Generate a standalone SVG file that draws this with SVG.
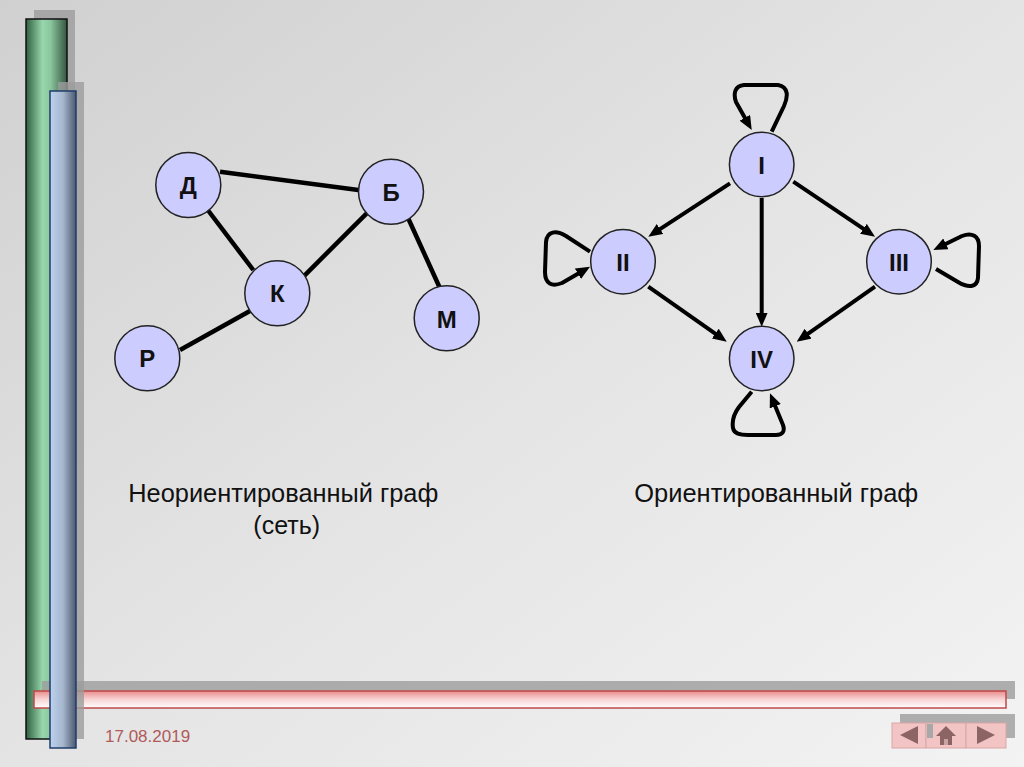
<svg xmlns="http://www.w3.org/2000/svg" width="1024" height="767" viewBox="0 0 1024 767">
<defs>
  <linearGradient id="bg" x1="0" y1="0" x2="1" y2="1">
    <stop offset="0" stop-color="#d0d0d0"/>
    <stop offset="0.5" stop-color="#e4e4e4"/>
    <stop offset="1" stop-color="#f3f3f3"/>
  </linearGradient>
  <linearGradient id="green" x1="0" y1="0" x2="1" y2="0">
    <stop offset="0" stop-color="#2f5f40"/>
    <stop offset="0.4" stop-color="#98d6ac"/>
    <stop offset="0.6" stop-color="#8ac69e"/>
    <stop offset="1" stop-color="#35553f"/>
  </linearGradient>
  <linearGradient id="blue" x1="0" y1="0" x2="1" y2="0">
    <stop offset="0" stop-color="#bcd2f0"/>
    <stop offset="0.5" stop-color="#a6b6cc"/>
    <stop offset="1" stop-color="#4a5870"/>
  </linearGradient>
  <linearGradient id="red" x1="0" y1="0" x2="0" y2="1">
    <stop offset="0" stop-color="#e88c8c"/>
    <stop offset="0.5" stop-color="#f8d4d4"/>
    <stop offset="1" stop-color="#ffffff"/>
  </linearGradient>
  <marker id="ah" markerWidth="14" markerHeight="12" refX="6" refY="6" orient="auto" markerUnits="userSpaceOnUse">
    <path d="M0,0 L14,6 L0,12 z" fill="#000"/>
  </marker>
  <style>
    .node { fill: #ccccff; stroke: #222; stroke-width: 1.5; }
    .lbl { font-family: "Liberation Sans", Arial, sans-serif; font-weight: bold; font-size: 24px; fill: #111; text-anchor: middle; }
    .edge { stroke: #000; stroke-width: 4.5; fill: none; stroke-linecap: butt; }
    .arc { stroke: #000; stroke-width: 4; fill: none; stroke-linejoin: round; marker-end: url(#ah); }
    .cap { font-family: "Liberation Sans", Arial, sans-serif; font-size: 25px; fill: #111; text-anchor: middle; }
    .shadow { fill: #9c9c9c; opacity: 0.8; }
    .btn { fill: #f2c4c4; stroke: #d9a6a6; stroke-width: 1; }
    .ico { fill: #8c6464; }
  </style>
</defs>

<rect x="0" y="0" width="1024" height="767" fill="url(#bg)"/>

<g id="decor">
  <rect class="shadow" x="34" y="10" width="41" height="720"/>
  <rect x="26" y="19" width="41" height="720" fill="url(#green)" stroke="#111" stroke-width="1.5"/>
  <rect class="shadow" x="42" y="681" width="973" height="18"/>
  <rect x="34" y="691" width="972" height="17" fill="url(#red)" stroke="#c04848" stroke-width="1.5"/>
  <rect class="shadow" x="58" y="82" width="26" height="657"/>
  <rect x="50" y="91" width="26" height="657" fill="url(#blue)" stroke="#1f3d6a" stroke-width="1.5"/>
  <text x="105" y="742" font-family="Liberation Sans, Arial, sans-serif" font-size="17" fill="#b05a5a">17.08.2019</text>
  <rect class="shadow" x="900" y="714" width="115" height="24"/>
  <rect class="btn" x="892" y="723" width="34" height="25"/>
  <rect class="btn" x="926" y="723" width="40" height="25"/>
  <rect class="btn" x="966" y="723" width="40" height="25"/>
  <rect x="927" y="724" width="6" height="14" fill="#a8a8a8"/>
  <polygon class="ico" points="900,735 918,726 918,744"/>
  <polygon class="ico" points="977,726 995,735 977,744"/>
  <polygon class="ico" points="936,736 946,726 956,736"/>
  <rect class="ico" x="940" y="735" width="12" height="10"/>
  <rect x="944" y="739" width="4" height="6" fill="#c9a2a2"/>
</g>

<g id="connectors">
  <line class="edge" x1="220" y1="171.7" x2="358.3" y2="190"/>
  <line class="edge" x1="204" y1="205" x2="253.3" y2="270"/>
  <line class="edge" x1="366.7" y1="213.3" x2="301.7" y2="278.3"/>
  <line class="edge" x1="406.7" y1="215" x2="439.3" y2="286.7"/>
  <line class="edge" x1="180" y1="350" x2="251.7" y2="310"/>

  <path class="arc" d="M730,183.3 L655,232.3"/>
  <path class="arc" d="M793.3,181.7 L868.4,232.2"/>
  <path class="arc" d="M761.7,198 L761.7,318.7"/>
  <path class="arc" d="M648.3,286.7 L720.2,337.1"/>
  <path class="arc" d="M875,286.7 L803.2,337.1"/>

  <path class="arc" d="M771.7,131.7 L784,106 C788,97 789,87 778,85 L744,85 C735,86 733,93 736,102 L747.8,123"/>
  <path class="arc" d="M590,251.7 L566,236 C556,230 547,231 546,242 L545,272 C545,284 552,287 562,283 L583.1,270.7"/>
  <path class="arc" d="M936,269 L958,282 C968,288 977,288 978,278 L979,246 C979,236 972,232 962,236 L940.5,246.5"/>
  <path class="arc" d="M751.7,391.7 L739,407 C733,415 732,422 733,428 C734,434 740,435 748,435 L776,435 C783,435 785,431 783,425 L773,400.7"/>
</g>

<g id="node-D"><circle class="node" cx="188.3" cy="185" r="32.5"/><text class="lbl" x="188.3" y="194">Д</text></g>
<g id="node-B"><circle class="node" cx="391" cy="191.7" r="32.5"/><text class="lbl" x="391" y="200.7">Б</text></g>
<g id="node-K"><circle class="node" cx="277.3" cy="293.3" r="32.5"/><text class="lbl" x="277.3" y="302.3">К</text></g>
<g id="node-M"><circle class="node" cx="446.7" cy="318.3" r="32.5"/><text class="lbl" x="446.7" y="327.8">М</text></g>
<g id="node-R"><circle class="node" cx="147.3" cy="358.3" r="32.5"/><text class="lbl" x="147.3" y="367.3">Р</text></g>

<g id="node-I"><circle class="node" cx="761.7" cy="164.5" r="32.3"/><text class="lbl" x="761.7" y="174">I</text></g>
<g id="node-II"><circle class="node" cx="623" cy="261.7" r="32.3"/><text class="lbl" x="623" y="270.7">II</text></g>
<g id="node-III"><circle class="node" cx="899" cy="261.7" r="32.3"/><text class="lbl" x="899" y="270.7">III</text></g>
<g id="node-IV"><circle class="node" cx="761.7" cy="358.5" r="32.3"/><text class="lbl" x="761.7" y="367.5">IV</text></g>

<g id="captions">
  <text class="cap" x="283.3" y="502" textLength="310" lengthAdjust="spacingAndGlyphs">Неориентированный граф</text>
  <text class="cap" x="286.7" y="534">(сеть)</text>
  <text class="cap" x="776.3" y="502" textLength="284" lengthAdjust="spacingAndGlyphs">Ориентированный граф</text>
</g>
</svg>
